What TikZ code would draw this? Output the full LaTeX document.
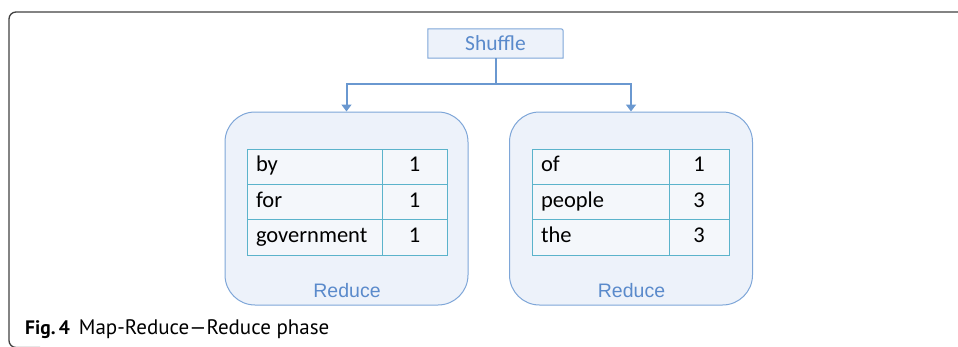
\documentclass[tikz,border=0pt]{standalone}
\usepackage{fontspec}
\setmainfont{Carlito}
\newfontfamily\labelfont{Liberation Sans}
\newfontfamily\capfont[Ligatures=TeX]{PT Sans}
\usetikzlibrary{arrows.meta,calc}

\definecolor{framegray}{HTML}{404040}
\definecolor{boxfill}{HTML}{EDF2FA}
\definecolor{boxedge}{HTML}{7EA6D8}
\definecolor{flowblue}{HTML}{6A98D0}
\definecolor{labelblue}{HTML}{5A8ACB}
\definecolor{celledge}{HTML}{5BB3CB}
\definecolor{cellfill}{HTML}{F4F7FB}

\tikzset{
  reducebox/.style={draw=boxedge, fill=boxfill, line width=1pt,
    rounded corners=30pt, minimum width=243pt, minimum height=193pt, inner sep=0pt},
  wordcell/.style={draw=celledge, fill=cellfill, line width=1pt, inner xsep=9pt,
    inner ysep=0pt, minimum height=35.3pt, align=left,
    text height=14.5pt, text depth=5pt, font=\fontsize{22.5}{24}\selectfont},
  countcell/.style={draw=celledge, fill=cellfill, line width=1pt, inner sep=0pt,
    minimum height=35.3pt, text height=14.5pt, text depth=5pt,
    font=\fontsize{22.5}{24}\selectfont},
  flow/.style={draw=flowblue, line width=2pt, -{Triangle[width=10pt,length=7pt]}},
  reducelabel/.style={text=labelblue, font=\labelfont\fontsize{19.5}{22}\selectfont,
    inner sep=0pt, anchor=base},
}

\begin{document}
\begin{tikzpicture}[x=1pt,y=-1pt]
\useasboundingbox (0,0) rectangle (958,346);

% outer frame, open to the right and bottom
\draw[framegray, line width=1.3pt, rounded corners=7pt]
  (980,12) -- (9,12) -- (9,347.5) -- (40,347.5);

% shuffle box, top right corner rounded
\node[minimum width=135pt, minimum height=29pt, inner sep=0pt] (shuffle) at (495.5,43.5) {};
\draw[draw=boxedge, fill=boxfill, line width=1pt]
  (shuffle.south west) -- (shuffle.north west)
  -- ([xshift=-5pt]shuffle.north east) .. controls (shuffle.north east) .. ([yshift=-5pt]shuffle.north east)
  -- (shuffle.south east) -- cycle;
\node[text=labelblue, font=\fontsize{21.5}{24}\selectfont] at (shuffle.center) {Shuffle};

% reduce boxes
\node[reducebox] (r1) at (346.5,208.5) {};
\node[reducebox] (r2) at (631,208.5) {};

% connectors
\coordinate (bus) at (0,84);
\draw[flow] (shuffle.south) -- (shuffle.south |- bus) -| (r1.north);
\draw[flow] (shuffle.south) -- (shuffle.south |- bus) -| (r2.north);

% left table
\foreach \w/\c/\y [count=\i] in {by/1/167, for/1/202.5, government/1/237.5} {
  \node[wordcell, text width=117pt] (la\i) at (314.5,\y) {\w};
  \node[countcell, minimum width=65pt] (lb\i) at (414.5,\y) {\c};
}
% right table
\foreach \w/\c/\y [count=\i] in {of/1/167, people/3/202.5, the/3/237.5} {
  \node[wordcell, text width=119pt] (ra\i) at (600.5,\y) {\w};
  \node[countcell, minimum width=60pt] (rb\i) at (699,\y) {\c};
}

% labels inside the reduce boxes
\node[reducelabel] (l1) at (347,297) {Reduce};
\node[reducelabel] (l2) at (631.5,297) {Reduce};

% caption
\node[anchor=base west, inner sep=0pt, font=\capfont\fontsize{21}{24}\selectfont] (cap)
  at (25,334) {{\fontsize{19.5}{24}\selectfont\bfseries Fig.\,4}\hspace{9pt}Map-Reduce---Reduce phase};
\end{tikzpicture}
\end{document}
